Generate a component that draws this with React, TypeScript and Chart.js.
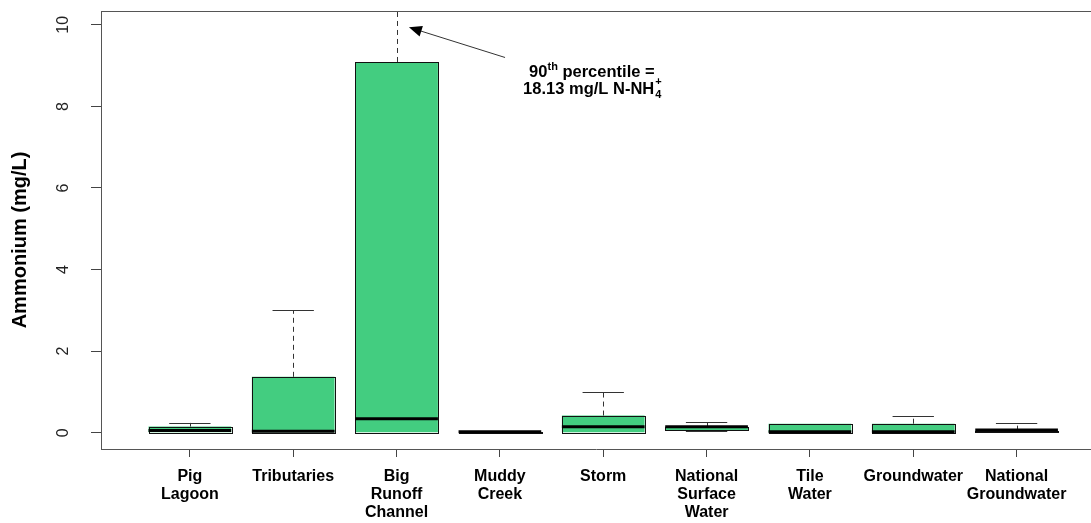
import React, { useEffect, useRef } from 'react';
import { Chart, registerables } from 'chart.js';

Chart.register(...registerables);

const categories: string[][] = [
  ['Pig', 'Lagoon'],
  ['Tributaries'],
  ['Big', 'Runoff', 'Channel'],
  ['Muddy', 'Creek'],
  ['Storm'],
  ['National', 'Surface', 'Water'],
  ['Tile', 'Water'],
  ['Groundwater'],
  ['National', 'Groundwater'],
];
const whiskerLow = [0, 0, 0, 0, 0, 0.03, 0, 0, 0.01];
const q1 = [0, 0, 0, 0, 0, 0.06, 0, 0, 0.02];
const median = [0.03, 0.01, 0.32, 0, 0.12, 0.12, 0, 0, 0.04];
const q3 = [0.15, 1.37, 9.09, 0.01, 0.42, 0.15, 0.22, 0.22, 0.05];
const whiskerHigh = [0.24, 3.0, 18.13, 0.01, 1.0, 0.26, 0.22, 0.42, 0.24];

const yTicks = [0, 2, 4, 6, 8, 10];
const yTitle = 'Ammonium (mg/L)';

// annotation (data coordinates)
const annoTextPos = { x: 4.89, y1: 8.88, y2: 8.44 };
const annoArrowFrom = { x: 4.05, y: 9.2 };
const annoArrowTo = { x: 3.12, y: 9.94 };
const annoLine1 = { base: '90', sup: 'th', rest: ' percentile =' };
const annoLine2 = { base: '18.13 mg/L N-NH', sub: '4', sup: '+' };

const BOX_FILL = '#43CD80';
const FONT = '"Liberation Sans", Arial, sans-serif';

const boxPlugin = {
  id: 'boxExtras',
  afterDatasetsDraw(chart: any) {
    const ctx = chart.ctx;
    const ys = chart.scales.y;
    const area = chart.chartArea;
    const meta = chart.getDatasetMeta(0);
    ctx.save();
    ctx.beginPath();
    ctx.rect(area.left, area.top, area.right - area.left, area.bottom - area.top);
    ctx.clip();
    meta.data.forEach((el: any, i: number) => {
      const cx = el.x;
      const w = el.width;
      const yq1 = ys.getPixelForValue(q1[i]);
      const yq3 = ys.getPixelForValue(q3[i]);
      const ylo = ys.getPixelForValue(whiskerLow[i]);
      const yhi = ys.getPixelForValue(whiskerHigh[i]);
      ctx.strokeStyle = '#333';
      ctx.lineWidth = 1;
      ctx.setLineDash([5, 4]);
      ctx.beginPath();
      if (whiskerHigh[i] > q3[i]) {
        ctx.moveTo(Math.round(cx) + 0.5, yq3);
        ctx.lineTo(Math.round(cx) + 0.5, yhi);
      }
      if (whiskerLow[i] < q1[i]) {
        ctx.moveTo(Math.round(cx) + 0.5, yq1);
        ctx.lineTo(Math.round(cx) + 0.5, ylo);
      }
      ctx.stroke();
      ctx.setLineDash([]);
      ctx.beginPath();
      ctx.moveTo(cx - w / 4, Math.round(yhi) + 0.5);
      ctx.lineTo(cx + w / 4, Math.round(yhi) + 0.5);
      ctx.moveTo(cx - w / 4, Math.round(ylo) + 0.5);
      ctx.lineTo(cx + w / 4, Math.round(ylo) + 0.5);
      ctx.stroke();
      ctx.strokeStyle = '#111';
      ctx.strokeRect(Math.round(cx - w / 2) + 0.5, Math.round(yq3) + 0.5, Math.round(w), Math.round(yq1) - Math.round(yq3));
      const ym = ys.getPixelForValue(median[i]);
      ctx.strokeStyle = '#000';
      ctx.lineWidth = 3;
      ctx.beginPath();
      ctx.moveTo(cx - w / 2, ym - 1);
      ctx.lineTo(cx + w / 2, ym - 1);
      ctx.stroke();
    });
    ctx.restore();
  },
  afterDraw(chart: any) {
    const ctx = chart.ctx;
    const xs = chart.scales.x;
    const ys = chart.scales.y;
    const area = chart.chartArea;
    ctx.save();
    ctx.strokeStyle = '#555';
    ctx.lineWidth = 1;
    ctx.beginPath();
    ctx.moveTo(area.left, Math.round(area.top) + 0.5);
    ctx.lineTo(area.right, Math.round(area.top) + 0.5);
    ctx.stroke();

    ctx.fillStyle = '#222';
    ctx.font = `16px ${FONT}`;
    ctx.textAlign = 'center';
    ctx.textBaseline = 'middle';
    yTicks.forEach((v) => {
      const y = ys.getPixelForValue(v);
      ctx.save();
      ctx.translate(64, y);
      ctx.rotate(-Math.PI / 2);
      ctx.fillText(String(v), 0, 0);
      ctx.restore();
    });
    ctx.fillStyle = '#000';
    ctx.font = `bold 20px ${FONT}`;
    ctx.save();
    ctx.translate(20, (area.top + area.bottom) / 2 + 10);
    ctx.rotate(-Math.PI / 2);
    ctx.fillText(yTitle, 0, 0);
    ctx.restore();

    const x0 = xs.getPixelForValue(annoArrowFrom.x);
    const y0 = ys.getPixelForValue(annoArrowFrom.y);
    const x1 = xs.getPixelForValue(annoArrowTo.x);
    const y1 = ys.getPixelForValue(annoArrowTo.y);
    const ang = Math.atan2(y1 - y0, x1 - x0);
    const headLen = 14;
    const headHalf = 0.4;
    ctx.strokeStyle = '#333';
    ctx.lineWidth = 1;
    ctx.beginPath();
    ctx.moveTo(x0, y0);
    ctx.lineTo(x1 - Math.cos(ang) * headLen * 0.8, y1 - Math.sin(ang) * headLen * 0.8);
    ctx.stroke();
    ctx.fillStyle = '#000';
    ctx.beginPath();
    ctx.moveTo(x1, y1);
    ctx.lineTo(x1 - headLen * Math.cos(ang - headHalf), y1 - headLen * Math.sin(ang - headHalf));
    ctx.lineTo(x1 - headLen * Math.cos(ang + headHalf), y1 - headLen * Math.sin(ang + headHalf));
    ctx.closePath();
    ctx.fill();

    const big = `bold 16.5px ${FONT}`;
    const small = `bold 11px ${FONT}`;
    ctx.textAlign = 'left';
    ctx.textBaseline = 'alphabetic';
    const tx = xs.getPixelForValue(annoTextPos.x);
    const ty1 = ys.getPixelForValue(annoTextPos.y1) + 6;
    const ty2 = ys.getPixelForValue(annoTextPos.y2) + 6;
    ctx.font = big;
    const wb1 = ctx.measureText(annoLine1.base).width;
    const wr1 = ctx.measureText(annoLine1.rest).width;
    ctx.font = small;
    const ws1 = ctx.measureText(annoLine1.sup).width;
    let sx = tx - (wb1 + ws1 + wr1) / 2;
    ctx.font = big;
    ctx.fillText(annoLine1.base, sx, ty1);
    sx += wb1;
    ctx.font = small;
    ctx.fillText(annoLine1.sup, sx, ty1 - 7);
    sx += ws1;
    ctx.font = big;
    ctx.fillText(annoLine1.rest, sx, ty1);

    const wb2 = ctx.measureText(annoLine2.base).width;
    ctx.font = small;
    const wsub = ctx.measureText(annoLine2.sub).width;
    const wsup = ctx.measureText(annoLine2.sup).width;
    let sx2 = tx - (wb2 + Math.max(wsub, wsup)) / 2;
    ctx.font = big;
    ctx.fillText(annoLine2.base, sx2, ty2);
    sx2 += wb2;
    ctx.font = small;
    ctx.fillText(annoLine2.sub, sx2 + 1, ty2 + 4);
    ctx.fillText(annoLine2.sup, sx2 + 1, ty2 - 9);
    ctx.restore();
  },
};

export default function App() {
  const ref = useRef<HTMLCanvasElement | null>(null);
  useEffect(() => {
    if (!ref.current) return;
    const data = categories.map((_, i) => ({ x: i + 1, y: [q1[i], q3[i]] }));
    const chart = new Chart(ref.current, {
      type: 'bar',
      data: {
        datasets: [
          {
            data: data as any,
            backgroundColor: BOX_FILL,
            borderColor: '#111',
            borderWidth: 0,
            borderSkipped: false,
            barPercentage: 0.8,
            categoryPercentage: 1,
          },
        ],
      },
      options: {
        responsive: false,
        animation: false,
        layout: { padding: { top: 11, left: 0, right: 0, bottom: 0 } },
        plugins: { legend: { display: false }, tooltip: { enabled: false } },
        scales: {
          x: {
            type: 'linear',
            min: 0.14,
            max: 9.72,
            offset: false,
            afterBuildTicks: (s: any) => {
              s.ticks = categories.map((_, i) => ({ value: i + 1 }));
            },
            afterFit: (s: any) => {
              s.height = 74;
            },
            grid: {
              offset: false,
              drawOnChartArea: false,
              drawTicks: true,
              tickLength: 8,
              color: '#444',
            },
            border: { display: true, color: '#555' },
            ticks: {
              autoSkip: false,
              maxRotation: 0,
              minRotation: 0,
              padding: 10,
              color: '#000',
              font: { family: FONT, size: 16, weight: 'bold', lineHeight: 1.15 },
              callback: (v: any) => categories[Math.round(v) - 1] || '',
            },
          },
          y: {
            type: 'linear',
            min: -0.4,
            max: 10.34,
            afterBuildTicks: (s: any) => {
              s.ticks = yTicks.map((v) => ({ value: v }));
            },
            afterFit: (s: any) => {
              s.width = 101;
            },
            grid: {
              offset: false,
              drawOnChartArea: false,
              drawTicks: true,
              tickLength: 10,
              color: '#444',
            },
            border: { display: true, color: '#555' },
            ticks: { display: false },
          },
        },
      },
      plugins: [boxPlugin],
    });
    return () => chart.destroy();
  }, []);
  return (
    <div style={{ position: 'absolute', left: 0, top: 0, width: 1091, height: 523, background: '#fff' }}>
      <canvas ref={ref} width={1091} height={523} style={{ display: 'block' }} />
    </div>
  );
}
